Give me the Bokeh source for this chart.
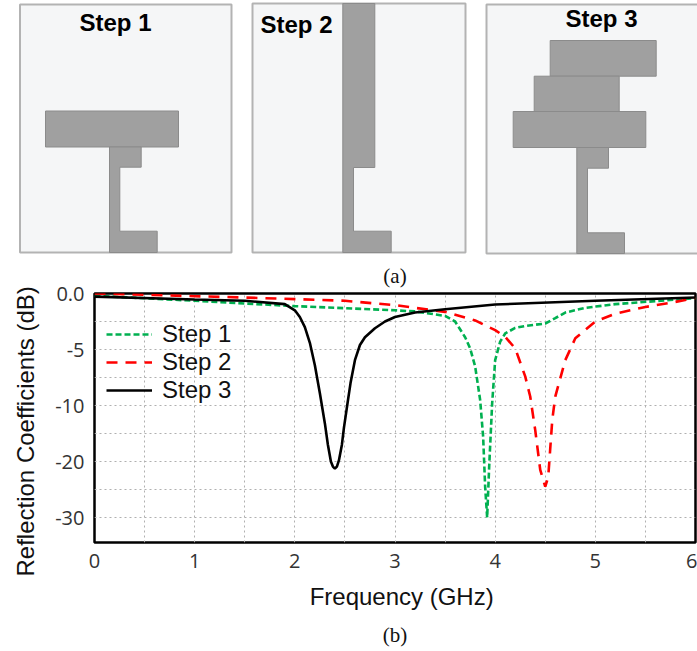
import numpy as np
from bokeh.plotting import figure
from bokeh.layouts import column
from bokeh.models import FixedTicker, LinearAxis, Legend, LegendItem, Range1d
from bokeh.core.properties import value
from bokeh.embed import file_html
from bokeh.resources import INLINE

# ---- chart data (frequency in GHz, reflection coefficient in dB) ----
step1_f = [0, 1, 2, 3, 3.2, 3.5, 3.6, 3.7, 3.75, 3.8, 3.85, 3.88, 3.9, 3.92, 3.94, 3.97, 4, 4.05, 4.1, 4.2, 4.3, 4.5, 4.6, 4.7, 4.9, 5.2, 5.6, 6]
step1_db = [-0.2, -0.65, -1.13, -1.5, -1.6, -2, -2.5, -3.9, -4.9, -6.5, -9.5, -15.6, -24.5, -30, -21, -9.8, -5.95, -4.3, -3.57, -3.07, -2.9, -2.68, -2.2, -1.7, -1.28, -0.95, -0.68, -0.42]
step2_f = [0, 1, 1.5, 2, 2.5, 3, 3.5, 3.8, 4, 4.1, 4.2, 4.3, 4.35, 4.4, 4.45, 4.5, 4.53, 4.57, 4.6, 4.7, 4.8, 5, 5.2, 5.5, 5.8, 6]
step2_db = [0, -0.24, -0.36, -0.5, -0.65, -1.04, -1.64, -2.4, -3.27, -3.87, -4.9, -7.4, -9.2, -14.4, -21.5, -24.5, -22.7, -12.6, -9.2, -5.95, -4, -2.5, -1.8, -1.2, -0.75, -0.39]
step3_f = [0, 1, 1.5, 1.9, 2, 2.05, 2.1, 2.15, 2.2, 2.25, 2.3, 2.33, 2.36, 2.38, 2.4, 2.42, 2.44, 2.47, 2.49, 2.526, 2.556, 2.6, 2.65, 2.7, 2.8, 2.9, 3, 3.2, 3.5, 4, 5, 6]
step3_db = [-0.28, -0.54, -0.65, -0.95, -1.5, -2.1, -3, -4.4, -6.4, -8.9, -13.2, -17, -20, -20.9, -21.25, -20.9, -19.8, -17, -14, -9.8, -8, -5.95, -4.6, -3.9, -3.1, -2.5, -2.1, -1.7, -1.4, -0.98, -0.65, -0.36]

x_ticks = [0, 1, 2, 3, 4, 5, 6]
x_grid = [0.5 * i for i in range(1, 12)]
y_tick_db = [0, -5, -10, -20, -30]
y_tick_labels = ["0.0", "-5", "-10", "-20", "-30"]
legend_labels = ["Step 1", "Step 2", "Step 3"]
panel_titles = ["Step 1", "Step 2", "Step 3"]

# ---- schematic geometry (panel a), in image pixels ----
panel_left = [19.5, 252, 486]
panel_right = [231, 465, 702]
panel_top = [4, 3, 4]
panel_bottom = [252, 252, 253]
title_x = [115, 296, 601]
title_y = [22, 24, 18]
s1_bar = (45, 178, 110.5, 146.5)
s1_feed_x = [109, 140.7, 140.7, 119.3, 119.3, 156.7, 156.7, 109]
s1_feed_y = [146.5, 146.5, 166.7, 166.7, 230.7, 230.7, 252, 252]
s2_x = [342.3, 374.3, 374.3, 353, 353, 390.7, 390.7, 342.3]
s2_y = [3, 3, 167, 167, 230.7, 230.7, 252, 252]
s3_bars_l = [549.7, 533.7, 512.7]
s3_bars_r = [655.7, 618.7, 645.3]
s3_bars_t = [40, 75.7, 111]
s3_bars_b = [75.7, 111, 147]
s3_feed_x = [576.3, 608, 608, 587, 587, 624, 624, 576.3]
s3_feed_y = [147, 147, 167.7, 167.7, 232.3, 232.3, 253, 253]

# the dB axis is drawn with evenly spaced, non-uniform ticks
y_tick_pos = [0, -1, -2, -3, -4]
def to_axis(db):
    return np.interp(-np.asarray(db, dtype=float), [-d for d in y_tick_db], [-p for p in y_tick_pos]) * -1

SHAPE = "#a0a0a0"
EDGE = "#8b8b8b"
NBSP = "\u00a0"

# ---- top: the three schematics ----
top = figure(width=697, height=255, x_range=Range1d(0, 697), y_range=Range1d(255, 0),
             output_backend="svg", toolbar_location=None, min_border=0, frame_align=False,
             outline_line_color=None, background_fill_color="white")
top.axis.visible = False
top.grid.visible = False
top.quad(left=panel_left, right=panel_right, top=panel_top, bottom=panel_bottom,
         fill_color="#f5f6f7", line_color="#b3b3b3", line_width=2)
top.quad(left=[s1_bar[0]], right=[s1_bar[1]], top=[s1_bar[2]], bottom=[s1_bar[3]],
         fill_color=SHAPE, line_color=EDGE, line_width=1)
top.patch(s1_feed_x, s1_feed_y, fill_color=SHAPE, line_color=EDGE, line_width=1)
top.patch(s2_x, s2_y, fill_color=SHAPE, line_color=EDGE, line_width=1)
top.quad(left=s3_bars_l, right=s3_bars_r, top=s3_bars_t, bottom=s3_bars_b,
         fill_color=SHAPE, line_color=EDGE, line_width=1)
top.patch(s3_feed_x, s3_feed_y, fill_color=SHAPE, line_color=EDGE, line_width=1)
top.text(x=title_x, y=title_y, text=panel_titles, text_font=value("Liberation Sans"),
         text_font_style="bold", text_font_size="24px", text_color="black",
         text_align="center", text_baseline="middle")

# ---- bottom: the reflection chart ----
p = figure(width=697, height=396, x_range=Range1d(0, 6), y_range=Range1d(-4.446, 0),
           output_backend="svg", toolbar_location=None, frame_align=False,
           min_border_left=94, min_border_right=2, min_border_top=38, min_border_bottom=109,
           outline_line_color="black", outline_line_width=2.5, background_fill_color="white")

p.xaxis.ticker = FixedTicker(ticks=x_ticks)
p.yaxis.ticker = FixedTicker(ticks=y_tick_pos)
p.yaxis.major_label_overrides = dict(zip(y_tick_pos, y_tick_labels))
for ax in (p.xaxis[0], p.yaxis[0]):
    ax.axis_line_color = None
    ax.major_tick_line_color = None
    ax.minor_tick_line_color = None
    ax.major_label_text_font = "Open Sans"
    ax.major_label_text_font_size = "20px"
    ax.major_label_text_color = "#333333"
    ax.axis_label_text_font = "Liberation Sans"
    ax.axis_label_text_font_size = "24px"
    ax.axis_label_text_font_style = "normal"
    ax.axis_label_text_color = "#111111"
p.xaxis.major_label_standoff = 5
p.yaxis.major_label_standoff = 4
p.xaxis.axis_label = NBSP * 2 + "Frequency (GHz)"
p.yaxis.axis_label = "Reflection Coefficients (dB)" + NBSP * 4
p.xaxis.axis_label_standoff = 12
p.yaxis.axis_label_standoff = 13

# captions of the two panels, carried by otherwise empty axes
def caption_axis(text, side, standoff):
    a = LinearAxis(ticker=FixedTicker(ticks=[]), axis_label=text, axis_line_color=None,
                   major_tick_line_color=None, minor_tick_line_color=None,
                   axis_label_text_font="Liberation Serif", axis_label_text_font_size="21px",
                   axis_label_text_font_style="normal", axis_label_text_color="#111111",
                   axis_label_standoff=standoff)
    p.add_layout(a, side)

caption_axis("(b)", "below", 10)
caption_axis("(a)", "above", 6)

p.xgrid.ticker = FixedTicker(ticks=x_grid)
p.ygrid.ticker = FixedTicker(ticks=[-0.5 * i for i in range(1, 9)])
for g in (p.xgrid[0], p.ygrid[0]):
    g.grid_line_color = "#b0b0b0"
    g.grid_line_dash = "2 3"
    g.grid_line_width = 1

r1 = p.line(step1_f, to_axis(step1_db), line_color="#00b050", line_width=2.6, line_dash="6 3")
r2 = p.line(step2_f, to_axis(step2_db), line_color="#ff0000", line_width=2.6, line_dash="11 8")
r3 = p.line(step3_f, to_axis(step3_db), line_color="black", line_width=2.6)

legend = Legend(items=[LegendItem(label=l, renderers=[r]) for l, r in zip(legend_labels, [r1, r2, r3])],
                location=(12, 138), background_fill_alpha=0, border_line_color=None,
                padding=0, margin=0, spacing=0, glyph_width=46, glyph_height=28, label_height=28,
                label_standoff=10, label_text_font="Liberation Sans", label_text_font_size="24px",
                label_text_color="#111111")
p.add_layout(legend, "center")

page = column(top, p, spacing=0)
open("out.html", "w").write(file_html(page, INLINE))
